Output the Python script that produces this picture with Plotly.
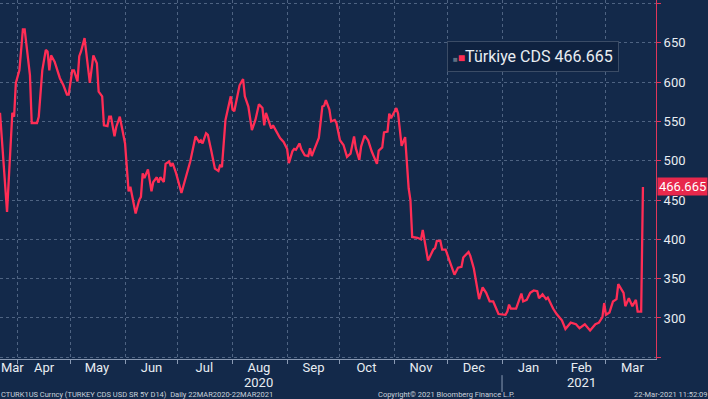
import pandas as pd
import plotly.graph_objects as go

# ---- data ----
start_date = "2020-03-22"
days = [0, 4, 7, 8, 9, 11, 13, 14, 17, 18,
        21, 22, 24, 26, 27, 28, 29, 31, 34, 36,
        38, 39, 41, 42, 44, 45, 46, 48, 51, 53,
        55, 56, 58, 59, 61, 62, 63, 65, 66, 68,
        71, 72, 73, 74, 76, 77, 79, 80, 81, 82,
        84, 86, 87, 89, 90, 91, 93, 94, 96, 97,
        98, 100, 103, 105, 108, 111, 113, 114, 115, 117,
        118, 120, 122, 124, 125, 126, 128, 131, 132, 133,
        135, 136, 138, 139, 141, 143, 145, 147, 149, 150,
        151, 154, 155, 157, 159, 161, 163, 164, 166, 167,
        168, 170, 171, 173, 175, 176, 177, 178, 180, 181,
        183, 184, 185, 187, 188, 190, 191, 193, 195, 197,
        199, 201, 202, 204, 205, 207, 209, 211, 214, 215,
        217, 218, 220, 221, 222, 225, 226, 228, 230, 232,
        233, 234, 237, 239, 240, 243, 246, 247, 248, 250,
        251, 253, 255, 258, 260, 262, 263, 266, 267, 269,
        272, 274, 276, 278, 280, 283, 287, 288, 289, 290,
        293, 296, 297, 299, 301, 303, 305, 306, 308, 310,
        311, 314, 316, 319, 321, 324, 327, 329, 332, 335,
        338, 340, 342, 343, 344, 346, 348, 350, 351, 354,
        355, 357, 359, 361, 362, 364, 365]
cds = [561, 435, 561, 556, 599, 615, 667, 667, 609, 548,
       548, 556, 615, 641, 639, 615, 634, 626, 605, 596,
       584, 584, 615, 615, 601, 633, 639, 656, 599, 634,
       624, 588, 582, 545, 544, 556, 556, 531, 543, 556,
       522, 492, 461, 467, 446, 433, 450, 454, 484, 478,
       489, 461, 473, 479, 472, 479, 473, 496, 499, 493,
       497, 484, 459, 476, 499, 531, 524, 526, 522, 535,
       533, 512, 490, 487, 495, 492, 552, 582, 565, 563,
       586, 596, 604, 582, 569, 539, 552, 572, 567, 545,
       561, 541, 545, 537, 529, 524, 515, 497, 512, 515,
       514, 522, 515, 507, 506, 516, 506, 512, 524, 529,
       569, 570, 577, 565, 550, 552, 548, 526, 520, 505,
       509, 531, 516, 501, 518, 532, 526, 512, 496, 513,
       517, 536, 537, 560, 554, 567, 560, 519, 530, 465,
       450, 403, 402, 400, 412, 373, 387, 389, 398, 398,
       387, 387, 374, 355, 364, 365, 377, 384, 379, 363,
       324, 339, 332, 321, 321, 305, 304, 308, 317, 312,
       312, 331, 321, 323, 332, 335, 334, 325, 330, 324,
       326, 312, 305, 297, 286, 294, 292, 287, 292, 284,
       292, 294, 301, 319, 304, 307, 321, 324, 343, 332,
       315, 325, 315, 323, 308, 308, 466.665]
last_value = 466.665
series_name = "Türkiye CDS"

y_ticks = [250, 300, 350, 400, 450, 500, 550, 600, 650, 700]
y_labels = ["", "300", "350", "400", "450", "500", "550", "600", "650", ""]
month_label_dates = ["2020-03-29", "2020-04-16", "2020-05-16", "2020-06-16",
                     "2020-07-16", "2020-08-16", "2020-09-16", "2020-10-16",
                     "2020-11-16", "2020-12-16", "2021-01-16", "2021-02-15",
                     "2021-03-16"]
month_labels = ["Mar", "Apr", "May", "Jun", "Jul", "Aug", "Sep", "Oct",
                "Nov", "Dec", "Jan", "Feb", "Mar"]
year_label_dates = ["2020-08-16", "2021-02-15"]
year_labels = ["2020", "2021"]
month_starts = [d.strftime("%Y-%m-%d") for d in
                pd.date_range("2020-04-01", "2021-03-01", freq="MS")]
year_break = "2021-01-01"

footer_left = "CTURK1US Curncy (TURKEY CDS USD SR 5Y D14)  Daily 22MAR2020-22MAR2021"
footer_mid = "Copyright© 2021 Bloomberg Finance L.P."
footer_right = "22-Mar-2021 11:52:09"

# ---- styling ----
BG = "#13294a"
RED = "#ff2d55"
GRID = "rgba(150,170,200,0.45)"
TXT = "#e8edf2"
FONT = "Roboto, Liberation Sans, sans-serif"

dates = pd.to_datetime(start_date) + pd.to_timedelta(days, unit="D")

fig = go.Figure()
fig.add_trace(go.Scatter(x=dates, y=cds, mode="lines",
                         line=dict(color=RED, width=2.3),
                         showlegend=False, hoverinfo="skip"))

fig.update_layout(
    width=708, height=399,
    margin=dict(l=0, r=52, t=0, b=40, autoexpand=False),
    paper_bgcolor=BG, plot_bgcolor=BG,
    font=dict(family=FONT, color=TXT, size=13),
    xaxis=dict(
        type="date",
        range=["2020-03-22", "2021-03-29 10:00"],
        tickmode="array", tickvals=month_label_dates, ticktext=month_labels,
        ticks="", showgrid=False, zeroline=False, automargin=False,
        ticklabelstandoff=-4,
        showline=True, linecolor="#8a9ab4", linewidth=1,
        tickfont=dict(size=13, color=TXT),
        minor=dict(tickmode="array", tickvals=month_starts, showgrid=True,
                   gridcolor=GRID, griddash="dot", gridwidth=1,
                   ticks="outside", ticklen=4, tickcolor="#8a9ab4"),
    ),
    yaxis=dict(
        side="right",
        range=[247.8, 704.5],
        tickmode="array", tickvals=y_ticks, ticktext=y_labels,
        showgrid=True, gridcolor=GRID, griddash="dot", gridwidth=1,
        zeroline=False, automargin=False,
        showline=True, linecolor="#e0365a", linewidth=1,
        ticks="outside", ticklen=4, tickcolor="#e0365a",
        tickfont=dict(size=13, color=TXT),
    ),
)

# year labels under the month labels
for d, t in zip(year_label_dates, year_labels):
    fig.add_annotation(xref="x", yref="paper", x=d, y=-0.0655,
                       xanchor="center", yanchor="middle", showarrow=False,
                       text=t, font=dict(size=13, color=TXT, family=FONT),
                       borderpad=0)

# legend-style box
fig.add_annotation(
    xref="paper", yref="paper", x=0.813, y=0.843,
    xanchor="center", yanchor="middle", showarrow=False,
    text=("<span style='font-size:8px;color:#5f6f82'>■</span>"
          f"<span style='font-size:12px;color:{RED}'>■</span>"
          f"{series_name} {last_value:.3f}"),
    font=dict(size=16, color=TXT, family=FONT),
    bgcolor="#0f2240", bordercolor="#3b4c66", borderwidth=1, borderpad=5,
)

# last value badge on the y axis
fig.add_annotation(
    xref="paper", yref="y", x=1, y=last_value, xshift=1,
    xanchor="left", yanchor="middle", showarrow=False,
    text=f"{last_value:.3f}",
    font=dict(size=13, color="#ffffff", family=FONT),
    bgcolor="#e8284c", borderpad=1,
)

# year separator mark under the axis
fig.add_shape(type="line", xref="x", yref="paper",
              x0=year_break, x1=year_break, y0=-0.045, y1=-0.092,
              line=dict(color="#8a9ab4", width=1))

# footer
for txt, x, anchor in [(footer_left, 0.0, "left"),
                       (footer_mid, 0.68, "center"),
                       (footer_right, 1.079, "right")]:
    fig.add_annotation(xref="paper", yref="paper", x=x, y=-0.1,
                       xanchor=anchor, yanchor="middle", showarrow=False,
                       text=txt, font=dict(size=7.5, color="#c9d1db", family=FONT),
                       borderpad=0)

fig.write_html("out.html", config={"displayModeBar": False},
               post_script="document.body.style.margin='0';")
